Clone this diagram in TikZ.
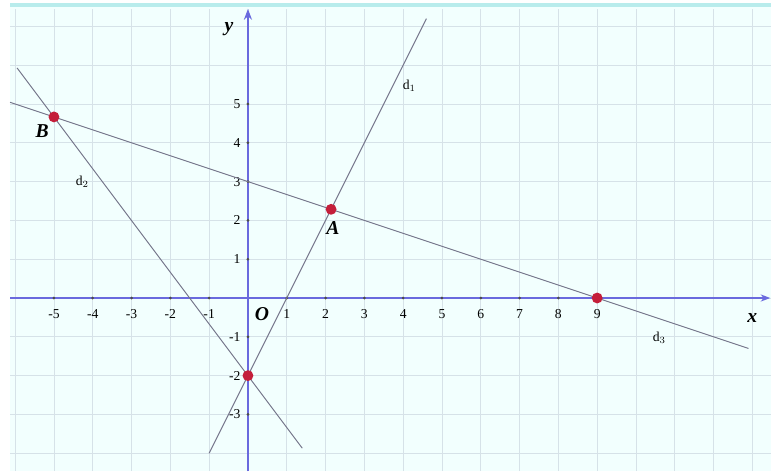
\documentclass[tikz,border=0pt]{standalone}
\usepackage{fontspec}
\setmainfont{Liberation Serif}
\usetikzlibrary{arrows.meta,calc,positioning}
\definecolor{bgcyan}{HTML}{F2FFFE}
\definecolor{bandcyan}{HTML}{B8ECEC}
\definecolor{gridgray}{HTML}{D6E2E8}
\definecolor{axisblue}{HTML}{6A6ADE}
\definecolor{linegray}{HTML}{74748A}
\definecolor{ptred}{HTML}{C41E3A}

\begin{document}
\begin{tikzpicture}[>=Stealth, x=1cm, y=1cm]
        \tikzset{
            axis/.style={draw=axisblue, line width=0.9pt},
            lin/.style={draw=linegray, line width=0.7pt},
            pt/.style={circle, fill=ptred, inner sep=0pt, minimum size=0.28cm},
            tickdot/.style={circle, fill=black!70, inner sep=0pt, minimum size=2.2pt},
            ticklab/.style={font=\normalsize, inner sep=1pt},
            ptlab/.style={font=\Large\bfseries\itshape},
            dlab/.style={font=\normalsize}
        }
        \useasboundingbox (-6.39,-4.46) rectangle (13.48,7.68);

        % Background and grid
        \fill [bgcyan] (-6.13,-4.46) rectangle (13.48,7.6);
        \fill [bandcyan] (-6.13,7.5) rectangle (13.48,7.6);
        \draw [gridgray, line width=0.5pt] (-6.13,-4.46) grid (13.48,7.45);

        % Axes
        \coordinate (xl) at (-6.13,0);
        \coordinate (xr) at (13.46,0);
        \coordinate (yb) at (0,-4.46);
        \coordinate (yt) at (0,7.45);
        \draw [axis, ->] (xl) -- (xr);
        \draw [axis, -{Stealth[length=8pt, width=6pt]}, fill=axisblue] (yb) -- (yt);
        \node [ptlab] (xlab) at (13.0,-0.52) {x};
        \node [ptlab] (ylab) at (-0.49,6.94) {y};
        \node [ptlab] (olab) at (0.36,-0.42) {O};

        % Ticks
        \foreach \i in {-5,...,-1,1,2,...,9} {
            \node [tickdot] (tx\i) at (\i,0) {};
            \node [ticklab, below=6pt of tx\i] (lx\i) {\i};
        }
        \foreach \j in {-3,-2,-1,1,2,...,5} {
            \node [tickdot] (ty\j) at (0,\j) {};
            \node [ticklab, left=3pt of ty\j] (ly\j) {\j};
        }

        % Lines
        \coordinate (d1a) at (-1,-4);
        \coordinate (d1b) at (4.6,7.2);
        \coordinate (d2a) at (-5.95,5.93);
        \coordinate (d2b) at (1.4,-3.87);
        \coordinate (d3a) at (-6.13,5.043);
        \coordinate (d3b) at (12.9,-1.3);
        \draw [lin] (d1a) -- (d1b);
        \draw [lin] (d2a) -- (d2b);
        \draw [lin] (d3a) -- (d3b);
        \node [dlab] (d1lab) at (4.16,5.47) {d$_1$};
        \node [dlab] (d2lab) at (-4.27,3.0) {d$_2$};
        \node [dlab] (d3lab) at (10.6,-1.03) {d$_3$};

        % Points
        \node [pt] (B) at (-5,14/3) {};
        \node [pt] (A) at (15/7,16/7) {};
        \node [pt] (P9) at (9,0) {};
        \node [pt] (Pm2) at (0,-2) {};
        \node [ptlab] (Blab) at (-5.3,4.3) {B};
        \node [ptlab] (Alab) at (2.19,1.81) {A};
\end{tikzpicture}
\end{document}
